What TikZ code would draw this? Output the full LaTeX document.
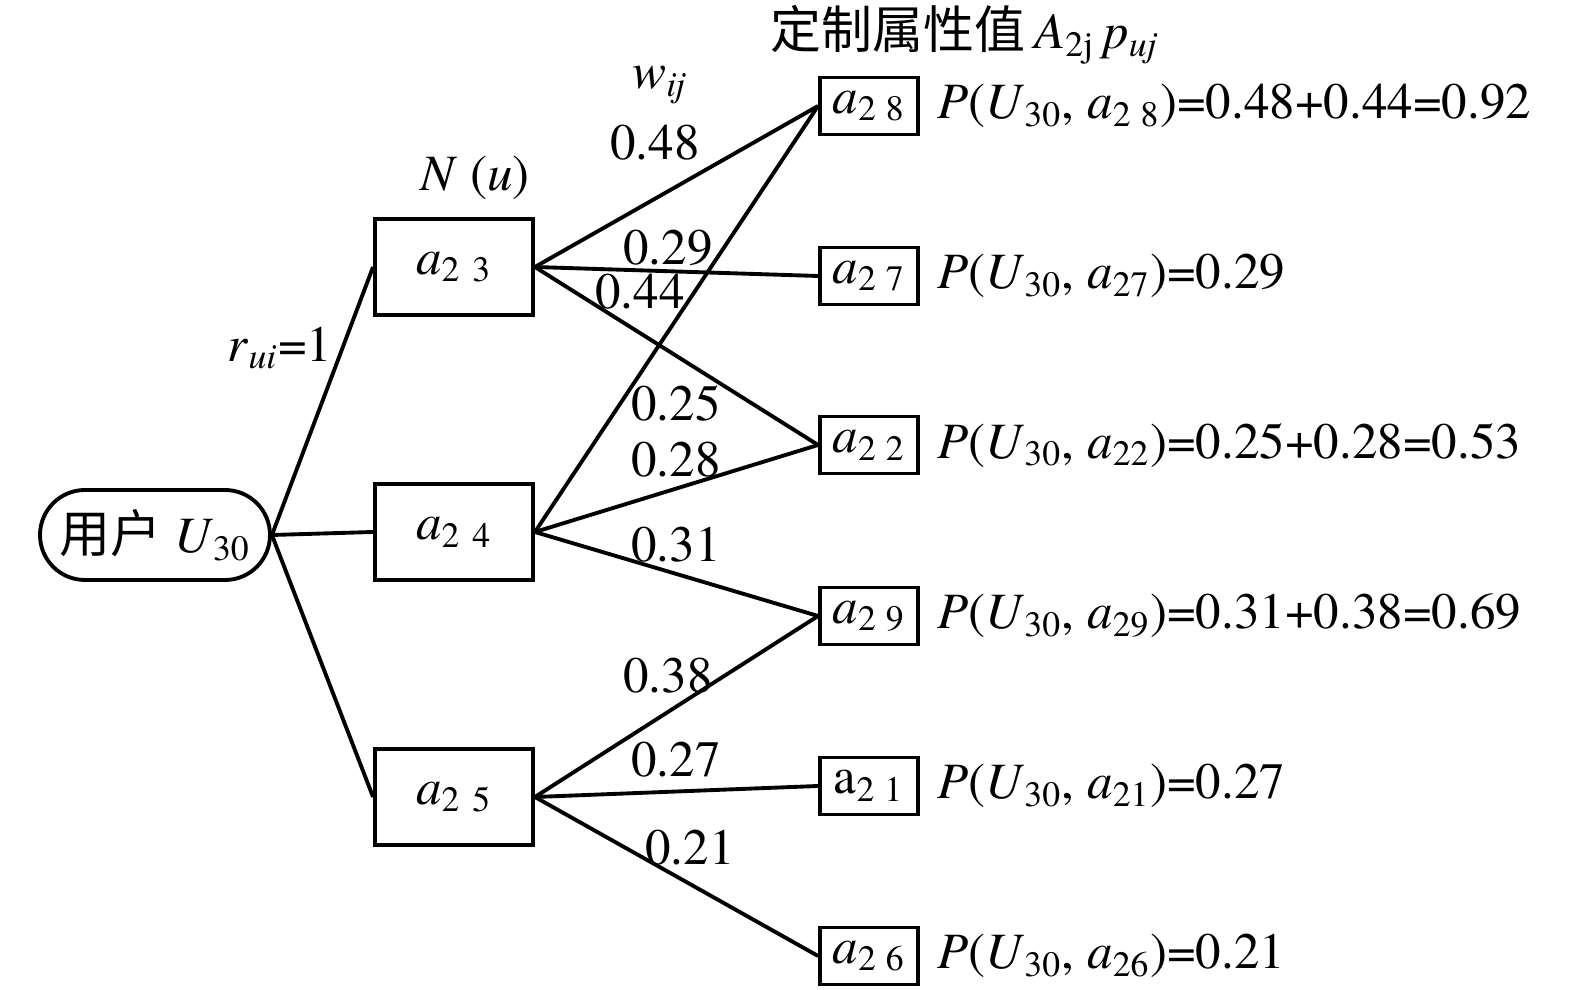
\documentclass[tikz,border=0pt]{standalone}
\usepackage{fontspec}
\setmainfont{texgyretermes}[Extension=.otf, UprightFont=*-regular, ItalicFont=*-italic, BoldFont=*-bold]
\newfontfamily\cjk{Noto Sans CJK SC}
\usetikzlibrary{positioning}
\begin{document}
\begin{tikzpicture}[
            every node/.style={font=\fontsize{14.5}{17}\selectfont},
            nbr/.style={draw, line width=1.1pt, minimum width=1.58cm, minimum height=0.96cm},
            item/.style={draw, line width=1.1pt, minimum width=0.98cm, minimum height=0.57cm, inner sep=0pt},
            link/.style={line width=1.1pt}]
            \useasboundingbox (0,0) rectangle (15.75,9.9);
            \node[draw, line width=1.1pt, rounded corners=0.45cm, minimum width=2.3cm, minimum height=0.9cm] (user) at (1.55,4.55) {{\cjk 用户}\ \textit{U}\textsubscript{30}};
            \node[nbr] (a23) at (4.54,7.23) {\textit{a}\textsubscript{2\hspace{1.3mm}3}};
            \node[nbr] (a24) at (4.54,4.58) {\textit{a}\textsubscript{2\hspace{1.3mm}4}};
            \node[nbr] (a25) at (4.54,1.93) {\textit{a}\textsubscript{2\hspace{1.3mm}5}};
            \node[item] (a28) at (8.69,8.84) {\textit{a}\textsubscript{2\hspace{1mm}8}};
            \node[item] (a27) at (8.69,7.14) {\textit{a}\textsubscript{2\hspace{1mm}7}};
            \node[item] (a22) at (8.69,5.45) {\textit{a}\textsubscript{2\hspace{1mm}2}};
            \node[item] (a29) at (8.69,3.74) {\textit{a}\textsubscript{2\hspace{1mm}9}};
            \node[item] (a21) at (8.69,2.04) {a\textsubscript{2\hspace{1mm}1}};
            \node[item] (a26) at (8.69,0.34) {\textit{a}\textsubscript{2\hspace{1mm}6}};
            \node (nu) at (4.75,8.12) {\textit{N} (\textit{u})};
            \node (wij) at (6.6,9.05) {\textit{w}\textsubscript{\textit{ij}}};
            \node (title) at (9.65,9.55) {{\cjk 定制属性值}\,\textit{A}\textsubscript{2j}\,\textit{p}\textsubscript{\textit{uj}}};
            \node (rui) at (2.8,6.42) {\textit{r}\textsubscript{\textit{ui}}=1};
            \draw[link] (user.east) -- (a23.west);
            \draw[link] (user.east) -- (a24.west);
            \draw[link] (user.east) -- (a25.west);
            \draw[link] (a23.east) -- (a28.west);
            \draw[link] (a23.east) -- (a27.west);
            \draw[link] (a23.east) -- (a22.west);
            \draw[link] (a24.east) -- (a28.west);
            \draw[link] (a24.east) -- (a22.west);
            \draw[link] (a24.east) -- (a29.west);
            \draw[link] (a25.east) -- (a29.west);
            \draw[link] (a25.east) -- (a21.west);
            \draw[link] (a25.east) -- (a26.west);
            \node at (6.55,8.47) {0.48};
            \node at (6.68,7.42) {0.29};
            \node at (6.40,6.98) {0.44};
            \node at (6.76,5.87) {0.25};
            \node at (6.76,5.30) {0.28};
            \node at (6.76,4.45) {0.31};
            \node at (6.68,3.14) {0.38};
            \node at (6.76,2.30) {0.27};
            \node at (6.90,1.42) {0.21};
            \node[right=0.05cm of a28] (p28) {\textit{P}(\textit{U}\textsubscript{30}, \textit{a}\textsubscript{2\hspace{1mm}8})=0.48+0.44=0.92};
            \node[right=0.05cm of a27] (p27) {\textit{P}(\textit{U}\textsubscript{30}, \textit{a}\textsubscript{27})=0.29};
            \node[right=0.05cm of a22] (p22) {\textit{P}(\textit{U}\textsubscript{30}, \textit{a}\textsubscript{22})=0.25+0.28=0.53};
            \node[right=0.05cm of a29] (p29) {\textit{P}(\textit{U}\textsubscript{30}, \textit{a}\textsubscript{29})=0.31+0.38=0.69};
            \node[right=0.05cm of a21] (p21) {\textit{P}(\textit{U}\textsubscript{30}, \textit{a}\textsubscript{21})=0.27};
            \node[right=0.05cm of a26] (p26) {\textit{P}(\textit{U}\textsubscript{30}, \textit{a}\textsubscript{26})=0.21};
        \end{tikzpicture}
\end{document}
